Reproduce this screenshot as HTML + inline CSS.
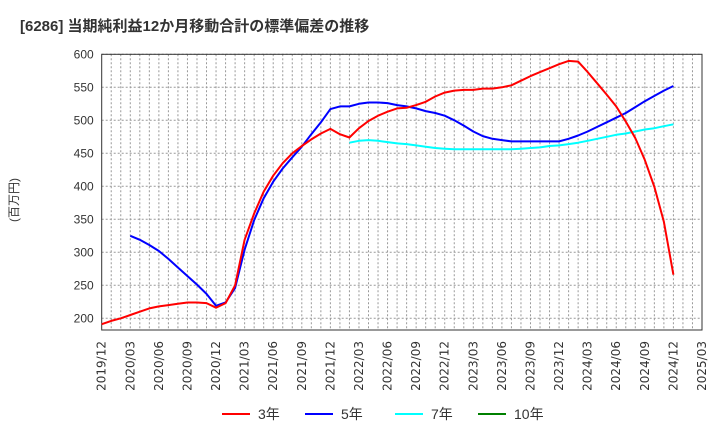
<!DOCTYPE html>
<html><head><meta charset="utf-8"><style>
body{margin:0;background:#fff;font-family:"Liberation Sans","Noto Sans CJK JP",sans-serif}
</style></head><body>
<svg id="c" width="720" height="440" xmlns="http://www.w3.org/2000/svg" font-family="Liberation Sans, Noto Sans CJK JP, sans-serif">
<text x="20" y="31" font-size="15" font-weight="bold" fill="#333">[6286]  当期純利益12か月移動合計の標準偏差の推移</text>
<text transform="translate(18,200) rotate(-90)" font-size="12" fill="#333" text-anchor="middle">(百万円)</text>
<g id="grid"></g><g id="axes"></g><g id="series"></g>
<g font-size="14" fill="#333">
<line x1="222" y1="414" x2="250" y2="414" stroke="#ff0000" stroke-width="2"/><text x="258" y="419">3年</text>
<line x1="305" y1="414" x2="333" y2="414" stroke="#0000ff" stroke-width="2"/><text x="341" y="419">5年</text>
<line x1="395" y1="414" x2="423" y2="414" stroke="#00ffff" stroke-width="2"/><text x="431" y="419">7年</text>
<line x1="478" y1="414" x2="506" y2="414" stroke="#008000" stroke-width="2"/><text x="514" y="419">10年</text>
</g>
</svg>
<script>
const xLabels=["2019/12","2020/03","2020/06","2020/09","2020/12","2021/03","2021/06","2021/09","2021/12","2022/03","2022/06","2022/09","2022/12","2023/03","2023/06","2023/09","2023/12","2024/03","2024/06","2024/09","2024/12","2025/03"];
const yTicks=[200,250,300,350,400,450,500,550,600];
// monthly values, index 0 = 2019/12
const s3=[191,196,200,205,210,215,218,220,222,224,224,223,216,223,250,319,359,392,416,435,450,461,471,480,487,479,474,488,499,507,513,518,519,523,528,536,542,545,546,546,548,548,550,553,560,567,573,579,585,590,589,573,556,539,521,498,473,440,399,346,266];
const s5Start=3;
const s5=[325,319,311,302,290,277,264,251,237,219,224,246,304,349,382,407,427,444,460,479,497,517,521,521,525,527,527,526,523,521,518,514,511,507,500,492,483,476,472,470,468,468,468,468,468,468,472,477,483,490,497,504,511,520,529,537,545,552];
const s7Start=26;
const s7=[466,469,470,469,467,465,464,462,460,458,457,456,456,456,456,456,456,456,457,458,459,461,462,464,466,469,472,475,478,480,483,486,488,491,494];
const s10=[];
const L=101.7,R=702,T=54.3,B=330,NM=63;
const xs=m=>L+m*(R-L)/NM;
const ys=v=>T+(600-v)*33/50;
const NS="http://www.w3.org/2000/svg";
function mk(tag,attrs,parent){const e=document.createElementNS(NS,tag);for(const k in attrs)e.setAttribute(k,attrs[k]);document.getElementById(parent).appendChild(e);return e;}
for(let m=1;m<NM;m++){const l=mk('line',{x1:xs(m),x2:xs(m),y1:T,y2:B,stroke:'#999','stroke-dasharray':'2,2','stroke-width':1},'grid');

}
yTicks.forEach(v=>{const l=mk('line',{x1:L,x2:R,y1:ys(v),y2:ys(v),stroke:'#999','stroke-dasharray':'2,2','stroke-width':1},'grid');


const t=mk('text',{x:L-8,y:ys(v)+4,'text-anchor':'end','font-size':12,fill:'#333'},'axes');t.textContent=v;

});
xLabels.forEach((lab,i)=>{const x=xs(i*3);const t=mk('text',{transform:`translate(${x+4},${B+11}) rotate(-90)`,'text-anchor':'end','font-size':12,'font-family':'DejaVu Sans, sans-serif',fill:'#333'},'axes');t.textContent=lab;

});
const box=mk('rect',{x:L,y:T,width:R-L,height:B-T,fill:'none',stroke:'#333','stroke-width':1},'axes');


function line(arr,start,color,name){if(!arr.length)return;const p=arr.map((v,i)=>xs(start+i).toFixed(1)+','+ys(v).toFixed(1)).join(' ');
const e=mk('polyline',{points:p,fill:'none',stroke:color,'stroke-width':2,'stroke-linejoin':'round'},'series');

}
line(s7,s7Start,'#00ffff','series-7y');
line(s5,s5Start,'#0000ff','series-5y');
line(s3,0,'#ff0000','series-3y');
line(s10,0,'#008000','series-10y');
</script>
</body></html>
